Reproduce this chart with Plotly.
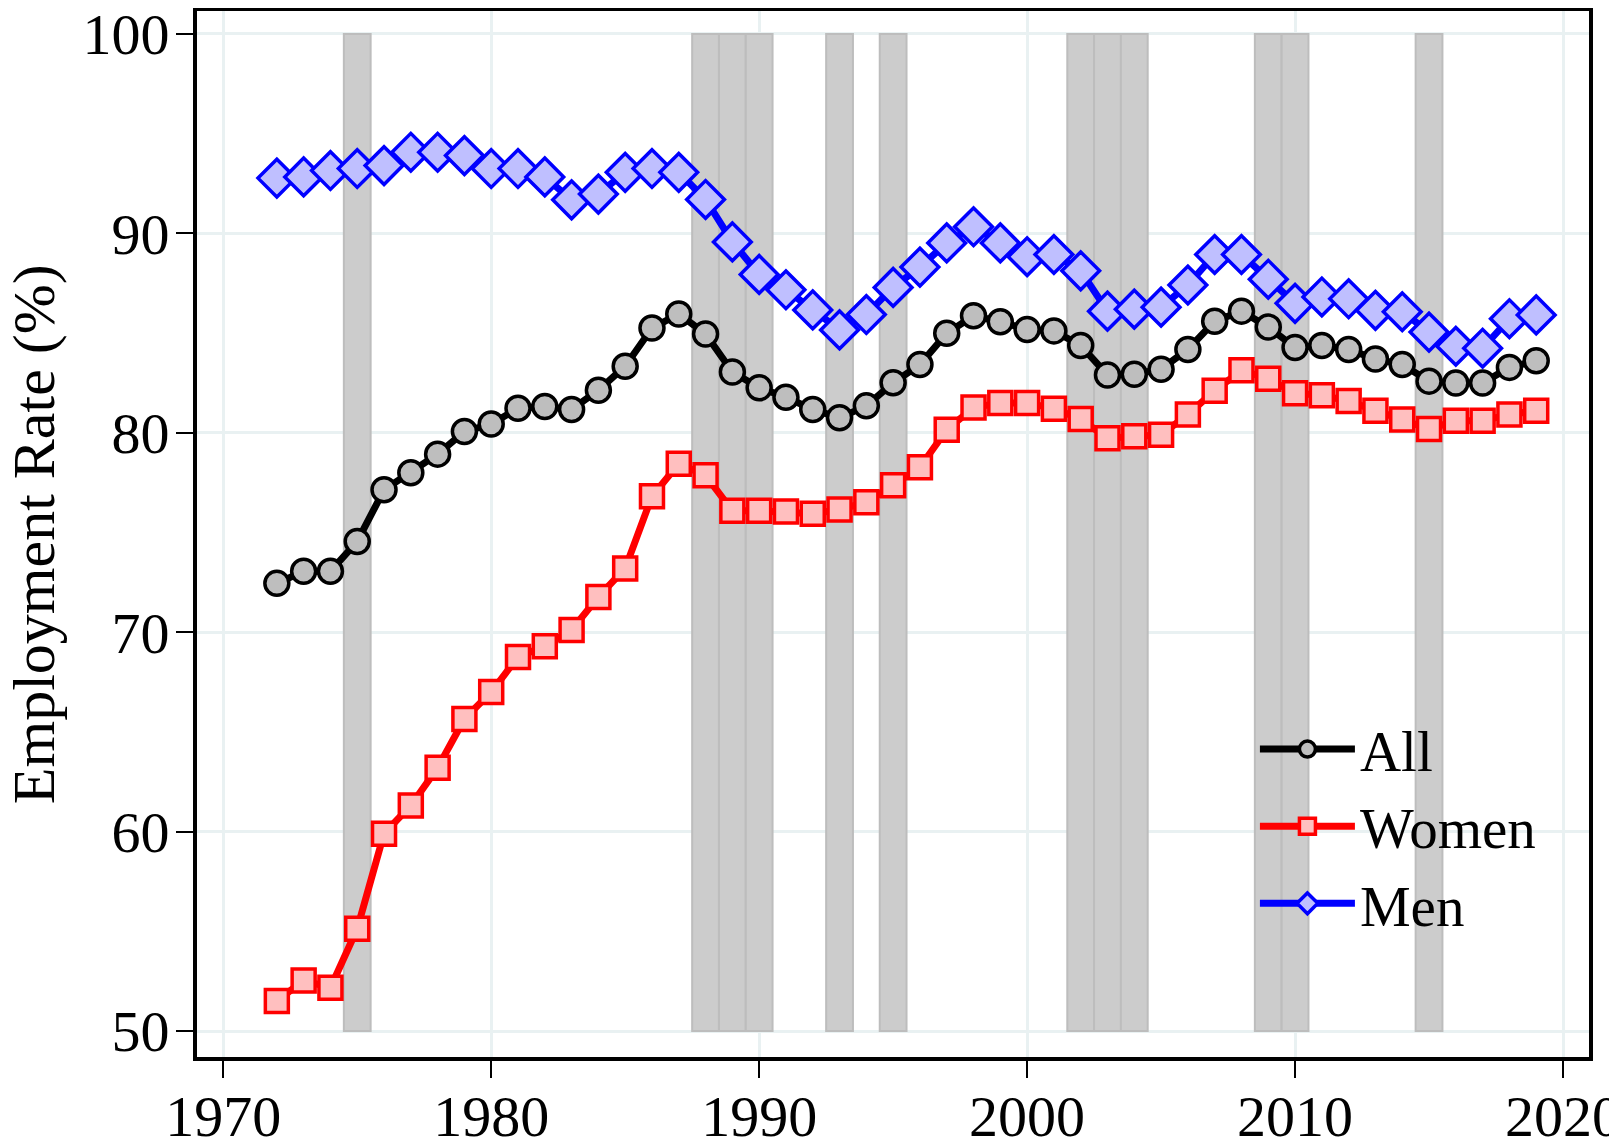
import plotly.graph_objects as go

# employment rate by year
years = list(range(1972, 2020))

all_rate = [72.45, 73.06, 73.06, 74.55, 77.14, 78.0, 78.93, 80.06, 80.44, 81.23,
            81.32, 81.17, 82.13, 83.34, 85.25, 85.96, 84.95, 83.05, 82.26, 81.78,
            81.17, 80.75, 81.35, 82.51, 83.42, 84.99, 85.87, 85.57, 85.18, 85.11,
            84.38, 82.9, 82.94, 83.19, 84.18, 85.59, 86.1, 85.3, 84.28, 84.38,
            84.18, 83.7, 83.42, 82.59, 82.5, 82.5, 83.28, 83.61]

women_rate = [51.51, 52.54, 52.17, 55.13, 59.9, 61.31, 63.2, 65.65, 67.0, 68.76,
              69.3, 70.11, 71.77, 73.2, 76.82, 78.45, 77.87, 76.09, 76.09, 76.05,
              75.94, 76.15, 76.52, 77.37, 78.27, 80.15, 81.27, 81.5, 81.5, 81.21,
              80.69, 79.73, 79.83, 79.9, 80.92, 82.11, 83.13, 82.71, 81.98, 81.88,
              81.59, 81.11, 80.67, 80.19, 80.6, 80.6, 80.92, 81.11]

men_rate = [92.77, 92.83, 93.15, 93.25, 93.4, 94.07, 94.07, 93.9, 93.25, 93.25,
            92.83, 91.68, 91.97, 93.06, 93.25, 93.06, 91.7, 89.57, 87.94, 87.17,
            86.16, 85.16, 85.93, 87.29, 88.31, 89.52, 90.33, 89.52, 88.83, 88.94,
            88.12, 86.1, 86.2, 86.3, 87.41, 88.94, 88.94, 87.7, 86.49, 86.81,
            86.72, 86.14, 86.07, 85.05, 84.34, 84.24, 85.72, 85.91]

# shaded years
recession_years = [1975, 1988, 1989, 1990, 1993, 1995, 2002, 2003, 2004, 2009, 2010, 2015]
shade_low = 50
shade_high = 100

x_ticks = [1970, 1980, 1990, 2000, 2010, 2020]
y_ticks = [50, 60, 70, 80, 90, 100]

FONT = "Liberation Serif"
GRID = "#e9f1f2"

fig = go.Figure()

fig.add_trace(
    go.Bar(
        x=recession_years,
        y=[shade_high - shade_low] * len(recession_years),
        base=shade_low,
        width=1,
        marker=dict(color="#cccccc", line=dict(color="#bdbdbd", width=2)),
        showlegend=False,
        hoverinfo="skip",
    )
)

series = [
    ("All", all_rate, "black", "#bebebe", "circle", 24),
    ("Women", women_rate, "#ff0000", "#ffbfbf", "square", 23),
    ("Men", men_rate, "#0000ff", "#bfbfff", "diamond", 29),
]
for name, vals, col, fill, sym, size in series:
    fig.add_trace(
        go.Scatter(
            x=years,
            y=vals,
            mode="lines+markers",
            name=name,
            line=dict(color=col, width=7),
            marker=dict(symbol=sym, size=size, color=fill, line=dict(color=col, width=3.5)),
        )
    )

# page body adds an 8px offset, margins account for it
fig.update_layout(
    width=1617,
    height=1141,
    margin=dict(l=189, r=36, t=3, b=92, autoexpand=False),
    paper_bgcolor="white",
    plot_bgcolor="white",
    font=dict(family=FONT, size=58, color="black"),
    barmode="overlay",
    hovermode=False,
    legend=dict(
        x=0.76,
        y=0.336,
        xanchor="left",
        yanchor="top",
        bgcolor="rgba(0,0,0,0)",
        font=dict(family=FONT, size=57),
        itemwidth=95,
        tracegroupgap=0,
    ),
    annotations=[
        dict(
            text="Employment Rate (%)",
            xref="paper",
            yref="paper",
            x=-0.117,
            y=0.5,
            xanchor="center",
            yanchor="middle",
            textangle=-90,
            showarrow=False,
            font=dict(family=FONT, size=60),
        )
    ],
)

fig.update_xaxes(
    range=[1969.02, 2020.97],
    tickvals=x_ticks,
    ticks="outside",
    ticklen=17,
    tickwidth=2,
    tickcolor="black",
    ticklabelstandoff=-12,
    ticklabeloverflow="allow",
    automargin=False,
    showline=True,
    linecolor="black",
    linewidth=4,
    mirror=True,
    showgrid=True,
    gridcolor=GRID,
    gridwidth=3,
    zeroline=False,
)
fig.update_yaxes(
    range=[48.7, 101.15],
    tickvals=y_ticks,
    ticks="outside",
    ticklen=17,
    tickwidth=2,
    tickcolor="black",
    ticklabelstandoff=-5,
    ticklabeloverflow="allow",
    automargin=False,
    showline=True,
    linecolor="black",
    linewidth=4,
    mirror=True,
    showgrid=True,
    gridcolor=GRID,
    gridwidth=3,
    zeroline=False,
)

fig.write_html("out.html", config={"displayModeBar": False})
